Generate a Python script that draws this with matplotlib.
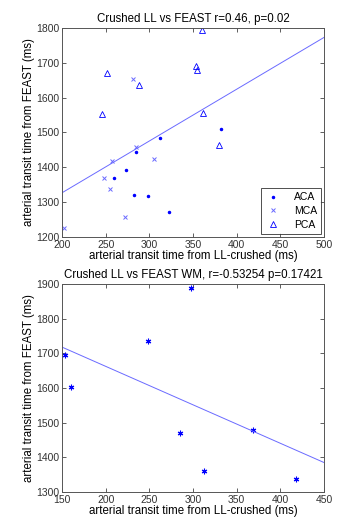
import matplotlib.pyplot as plt
import numpy as np

plt.rcParams['font.family'] = ['Liberation Sans', 'DejaVu Sans']

# top panel: grey matter regions
aca_x = [259.9, 273.3, 284.7, 282.0, 298.5, 312.2, 322.9, 381.7]
aca_y = [1370, 1391, 1444, 1322, 1318, 1485, 1273, 1509]
mca_x = [202.3, 248.5, 255.3, 256.9, 272.1, 280.9, 284.7, 305.0]
mca_y = [1227, 1370, 1339, 1418, 1258, 1654, 1459, 1425]
pca_x = [246.2, 251.1, 288.2, 360.3, 353.8, 354.6, 361.5, 379.8]
pca_y = [1553, 1672, 1636, 1793, 1690, 1679, 1556, 1464]
fit1_x = [200, 500]
fit1_y = [1327, 1773]

# bottom panel: white matter
wm_x = [153.4, 160.3, 248.1, 285.5, 297.3, 312.2, 368.3, 417.6]
wm_y = [1694, 1602, 1736, 1470, 1888, 1360, 1478, 1339]
fit2_x = [150, 450]
fit2_y = [1718, 1385]

blue = '#0000ff'
lblue = '#6a6aff'
fs = 7.5   # ticks, legend
fl = 8.3   # titles, axis labels

fig = plt.figure(figsize=(3.39, 5.20), dpi=100)
ax1 = fig.add_axes([0.183, 0.5442, 0.773, 0.402])
ax2 = fig.add_axes([0.183, 0.0538, 0.773, 0.400])

ax1.plot(aca_x, aca_y, '.', color=blue, ms=3, label='ACA')
ax1.plot(mca_x, mca_y, 'x', color=lblue, ms=3, mew=0.7, label='MCA')
ax1.plot(pca_x, pca_y, '^', color=blue, mfc='none', ms=5, mew=0.6, label='PCA')
ax1.plot(fit1_x, fit1_y, '-', color=lblue, lw=0.7)
ax1.set_xlim(200, 500)
ax1.set_ylim(1200, 1800)
ax1.set_xticks(np.arange(200, 501, 50))
ax1.set_yticks(np.arange(1200, 1801, 100))
ax1.set_title('Crushed LL vs FEAST r=0.46, p=0.02', fontsize=fl, pad=4)
ax1.set_xlabel('arterial transit time from LL-crushed (ms)', fontsize=fl, labelpad=0)
ax1.set_ylabel('arterial transit time from FEAST (ms)', fontsize=fl, labelpad=1)
leg = ax1.legend(loc='lower right', fontsize=fs, frameon=True, fancybox=False,
                 edgecolor='#222222', handlelength=1.5, borderaxespad=0.3,
                 labelspacing=0.35, handletextpad=1.2, borderpad=0.4)
leg.get_frame().set_linewidth(0.7)

ax2.plot(wm_x, wm_y, ls='none', marker=(6, 2, 0), color=blue, ms=4, mew=0.8)
ax2.plot(fit2_x, fit2_y, '-', color=lblue, lw=0.7)
ax2.set_xlim(150, 450)
ax2.set_ylim(1300, 1900)
ax2.set_xticks(np.arange(150, 451, 50))
ax2.set_yticks(np.arange(1300, 1901, 100))
ax2.set_title('Crushed LL vs FEAST WM, r=-0.53254 p=0.17421', fontsize=fl, pad=4)
ax2.set_xlabel('arterial transit time from LL-crushed (ms)', fontsize=fl, labelpad=0)
ax2.set_ylabel('arterial transit time from FEAST (ms)', fontsize=fl, labelpad=1)

for ax in (ax1, ax2):
    ax.tick_params(direction='in', top=True, right=True, length=3, width=0.6,
                   labelsize=fs, pad=2, colors='#444444', labelcolor='#333333')
    for sp in ax.spines.values():
        sp.set_linewidth(0.7)
        sp.set_color('#555555')

fig.savefig('out.png', dpi=100)
